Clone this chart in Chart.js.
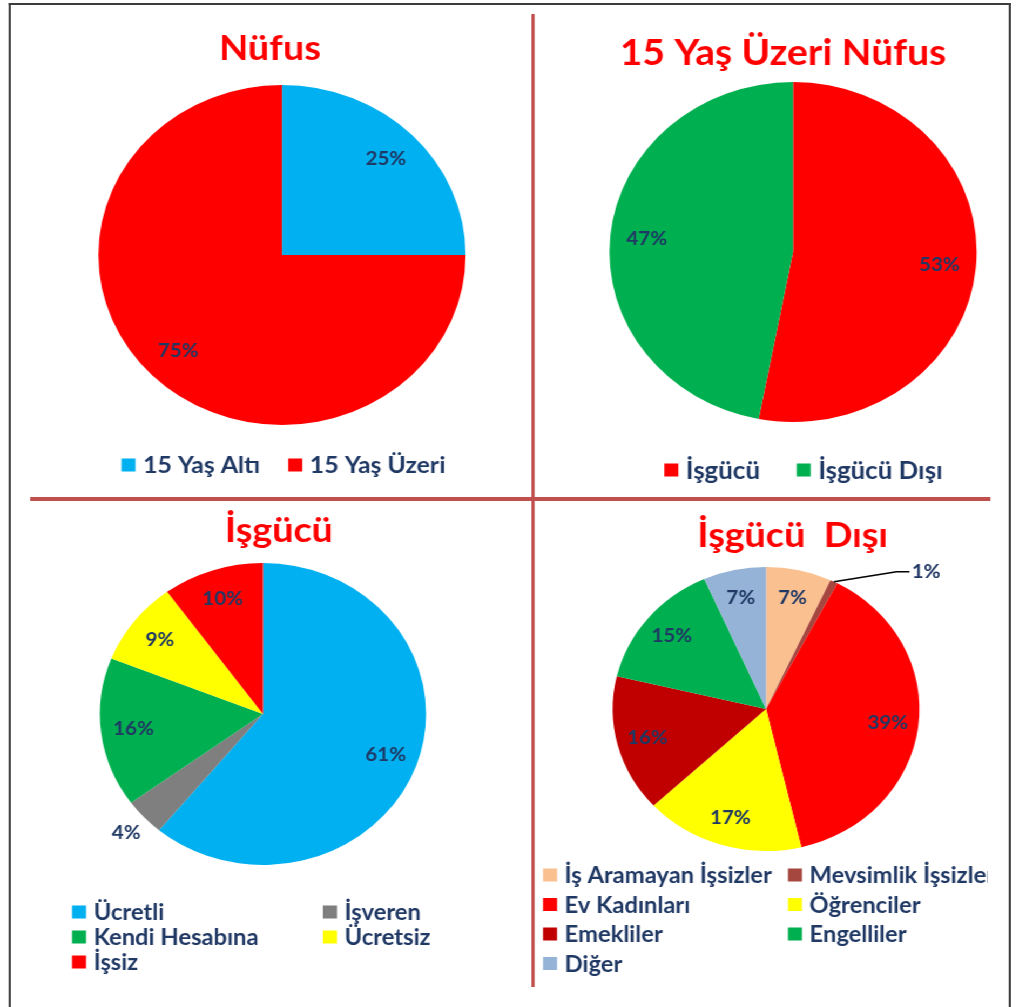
<!DOCTYPE html>
<html lang="tr">
<head>
<meta charset="utf-8">
<title>Nüfus ve İşgücü</title>
<script src="https://cdn.jsdelivr.net/npm/chart.js@4.4.1/dist/chart.umd.min.js"></script>
<style>
  html, body { margin: 0; padding: 0; background: #fff; overflow: hidden; }
  /* the reference is stretched sideways a little, so the whole stage is too */
  #stage { position: absolute; left: 0; top: 0; width: 948px; height: 1007px; transform: scaleX(1.08); transform-origin: 0 0; }
  #frame { position: absolute; left: 8.3px; top: 3px; width: 923.5px; height: 1010px; border: 2px solid #3c3c3c; border-bottom: none; }
  .divider { position: absolute; background: #c0504d; }
  canvas { position: absolute; }
</style>
</head>
<body>
<div id="stage">
  <div id="frame"></div>
  <div class="divider" style="left:491.5px;top:14px;width:3.7px;height:973px"></div>
  <div class="divider" style="left:27.8px;top:497px;width:889px;height:4px"></div>
  <canvas id="c1" width="480" height="493" style="left:10px;top:5px"></canvas>
  <canvas id="c2" width="438" height="493" style="left:495px;top:5px"></canvas>
  <canvas id="c3" width="480" height="500" style="left:10px;top:503px"></canvas>
  <canvas id="c4" width="420" height="500" style="left:495px;top:503px"></canvas>
</div>
<script>
// data
const nufusLabels = ['15 Yaş Altı', '15 Yaş Üzeri'];
const nufusValues = [25, 75];

const ustuLabels = ['İşgücü', 'İşgücü Dışı'];
const ustuValues = [53, 47];

const isgucuLabels = ['Ücretli', 'İşveren', 'Kendi Hesabına', 'Ücretsiz', 'İşsiz'];
const isgucuValues = [61, 4, 16, 9, 10];

const disiLabels = ['İş Aramayan İşsizler', 'Mevsimlik İşsizler', 'Ev Kadınları', 'Öğrenciler', 'Emekliler', 'Engelliler', 'Diğer'];
const disiValues = [6.9, 0.8, 38.6, 16.8, 15.6, 14.7, 6.6];

const FONT = 'Lato, "Open Sans", sans-serif';
const NAVY = '#1f3864';

// padding so the pie lands where it should inside its canvas
function padFor(w, h, cx, cy, r) {
  return { left: cx - r, top: cy - r, right: w - cx - r, bottom: h - cy - r };
}

const pieDecor = {
  id: 'pieDecor',
  afterDraw(chart, args, o) {
    const ctx = chart.ctx;
    const ds = chart.data.datasets[0];
    ctx.save();

    // title
    ctx.font = 'bold ' + o.titleSize + 'px ' + FONT;
    ctx.fillStyle = '#ff0000';
    ctx.textAlign = 'center';
    ctx.textBaseline = 'alphabetic';
    ctx.fillText(o.title, o.titleX, o.titleY);

    // percent labels
    const total = ds.data.reduce((a, b) => a + b, 0);
    const arcs = chart.getDatasetMeta(0).data;
    ctx.font = 'bold 19px ' + FONT;
    ctx.fillStyle = NAVY;
    ctx.textBaseline = 'middle';
    arcs.forEach((arc, i) => {
      const p = arc.getProps(['x', 'y', 'startAngle', 'endAngle', 'outerRadius'], true);
      const mid = (p.startAngle + p.endAngle) / 2;
      const txt = Math.round(ds.data[i] / total * 100) + '%';
      const lead = o.leaders && o.leaders[i];
      if (lead) {
        const ex = p.x + Math.cos(mid) * p.outerRadius;
        const ey = p.y + Math.sin(mid) * p.outerRadius;
        const bx = ex + lead[0], by = ey + lead[1];
        ctx.strokeStyle = '#000';
        ctx.lineWidth = 1.5;
        ctx.beginPath();
        ctx.moveTo(ex, ey);
        ctx.lineTo(bx, by);
        ctx.lineTo(bx + lead[2], by);
        ctx.stroke();
        ctx.textAlign = 'left';
        ctx.fillText(txt, bx + lead[2] + 2, by);
      } else {
        const f = (o.outside && o.outside[i]) || 0.8;
        ctx.textAlign = 'center';
        ctx.fillText(txt, p.x + Math.cos(mid) * p.outerRadius * f, p.y + Math.sin(mid) * p.outerRadius * f);
      }
    });

    // legend
    const lg = o.legend;
    const labels = chart.data.labels;
    const colors = ds.backgroundColor;
    const box = 13, boxGap = 7;
    ctx.font = 'bold ' + lg.size + 'px ' + FONT;
    ctx.textAlign = 'left';
    ctx.textBaseline = 'middle';
    let positions = [];
    if (lg.mode === 'row') {
      const widths = labels.map(t => box + boxGap + ctx.measureText(t).width);
      const full = widths.reduce((a, b) => a + b, 0) + lg.gap * (labels.length - 1);
      let x = lg.cx - full / 2;
      widths.forEach(w => { positions.push([x, lg.y]); x += w + lg.gap; });
    } else {
      positions = labels.map((t, i) => [lg.cols[i % 2], lg.y + Math.floor(i / 2) * lg.rowH]);
    }
    labels.forEach((t, i) => {
      const [x, y] = positions[i];
      ctx.fillStyle = colors[i];
      ctx.fillRect(x, y - box / 2, box, box);
      ctx.fillStyle = NAVY;
      ctx.fillText(t, x + box + boxGap, y + 1);
    });
    ctx.restore();
  }
};

function makePie(id, labels, values, colors, center, decor) {
  const cv = document.getElementById(id);
  return new Chart(cv, {
    type: 'pie',
    data: {
      labels: labels,
      datasets: [{
        data: values,
        backgroundColor: colors,
        borderWidth: 0,
        hoverBorderWidth: 0,
        hoverOffset: 0
      }]
    },
    options: {
      responsive: false,
      animation: false,
      events: [],
      layout: { padding: padFor(cv.width, cv.height, center[0], center[1], center[2]) },
      plugins: {
        legend: { display: false },
        tooltip: { enabled: false },
        pieDecor: decor
      }
    },
    plugins: [pieDecor]
  });
}

makePie('c1', nufusLabels, nufusValues, ['#00b0f0', '#ff0000'], [251.1, 250, 170], {
  title: 'Nüfus', titleSize: 35, titleX: 240, titleY: 55,
  legend: { mode: 'row', size: 23, cx: 252.5, y: 460, gap: 26 }
});

makePie('c2', ustuLabels, ustuValues, ['#ff0000', '#00b050'], [239.3, 247, 170], {
  title: '15 Yaş Üzeri Nüfus', titleSize: 36, titleX: 230, titleY: 60,
  legend: { mode: 'row', size: 24, cx: 249, y: 465, gap: 34 }
});

makePie('c3', isgucuLabels, isgucuValues, ['#00b0f0', '#7f7f7f', '#00b050', '#ffff00', '#ff0000'], [233.5, 211, 151], {
  title: 'İşgücü', titleSize: 35, titleX: 248.3, titleY: 39,
  outside: { 1: 1.15 },
  legend: { mode: 'grid', size: 22, cols: [56.7, 289], y: 409, rowH: 25 }
});

makePie('c4', disiLabels, disiValues, ['#fac090', '#a5463f', '#ff0000', '#ffff00', '#c00000', '#00b050', '#95b3d7'], [214.3, 206, 142], {
  title: 'İşgücü  Dışı', titleSize: 35, titleX: 239, titleY: 44,
  leaders: { 1: [58, -10, 12] },
  legend: { mode: 'grid', size: 22, cols: [7.8, 234.6], y: 372, rowH: 29.5 }
});
</script>
</body>
</html>
